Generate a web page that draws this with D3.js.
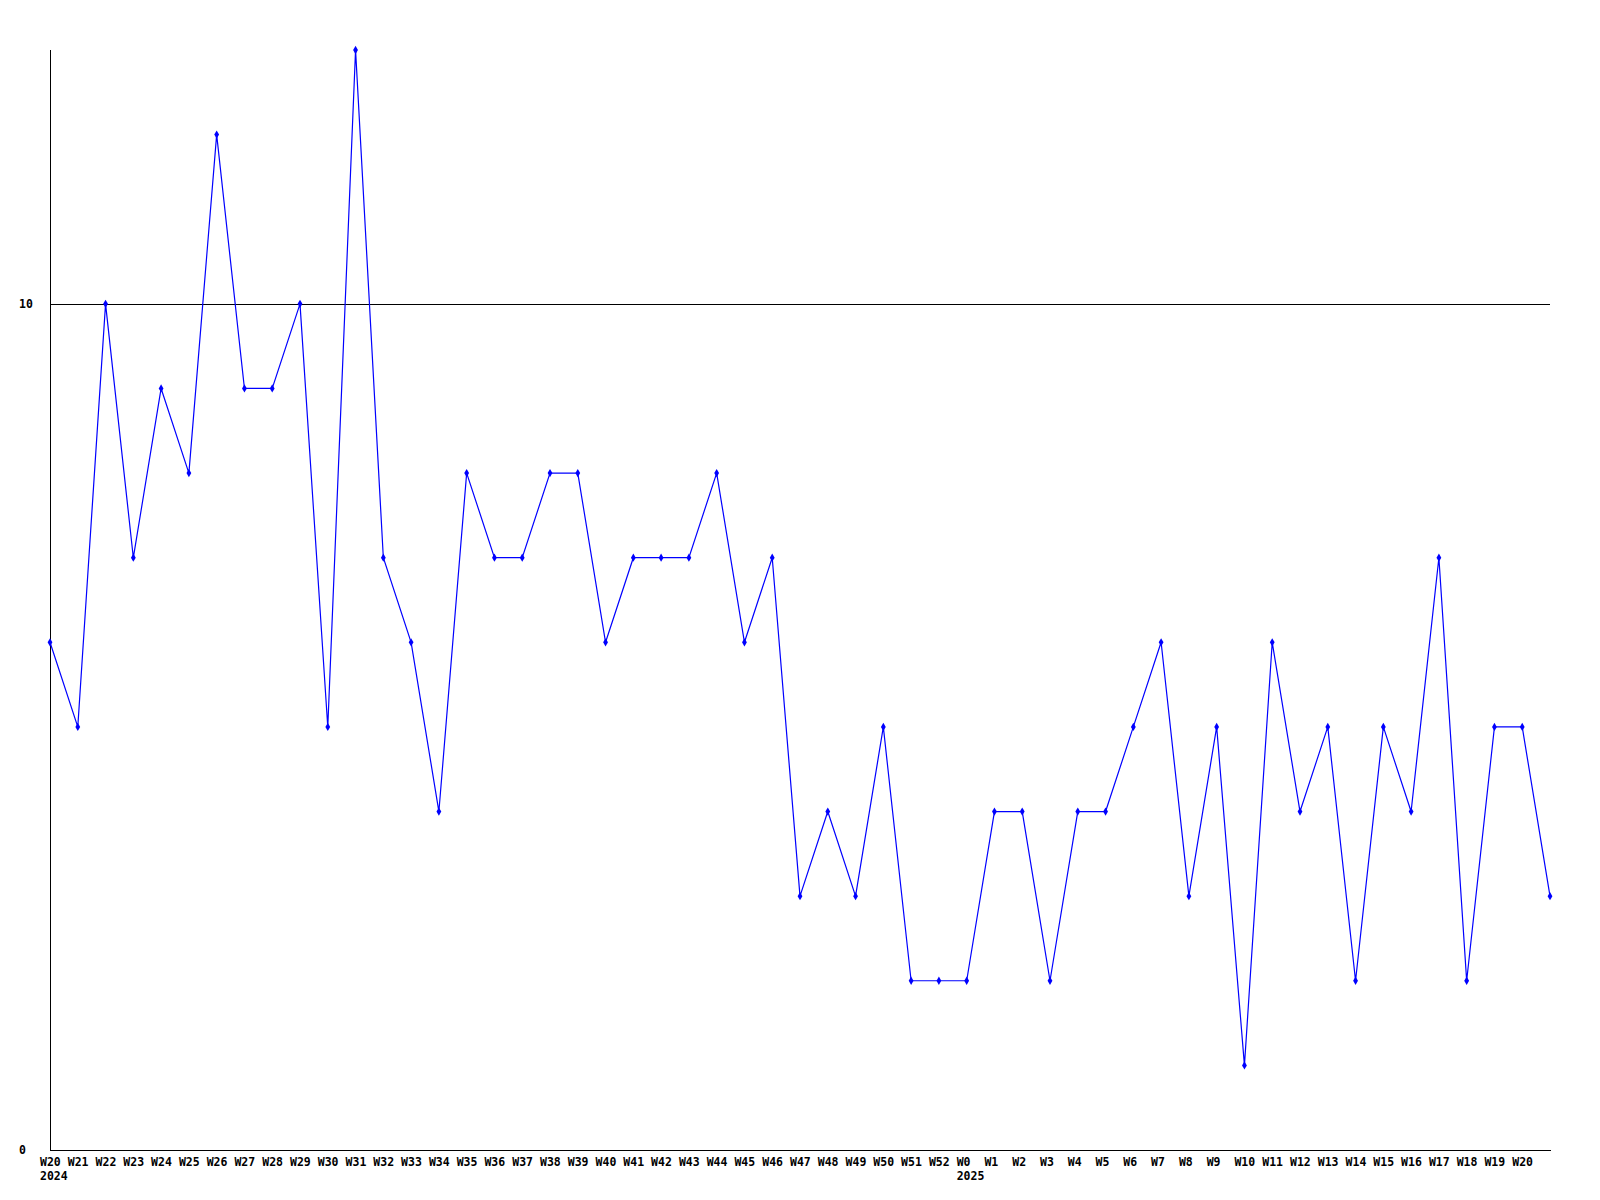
<!DOCTYPE html>
<html>
<head>
<meta charset="utf-8">
<script src="https://cdn.jsdelivr.net/npm/d3@7"></script>
<style>
html,body{margin:0;padding:0;background:#fff;}
svg{display:block;}
text{font-family:"DejaVu Sans Mono","Liberation Mono",monospace;font-weight:bold;font-size:11.5px;fill:#000;}
</style>
</head>
<body>
<svg id="chart" width="1600" height="1200"></svg>
<script>
// Weekly labels (the final point has no label)
const weeks = ["W20","W21","W22","W23","W24","W25","W26","W27","W28","W29","W30","W31","W32","W33","W34","W35","W36","W37","W38","W39","W40","W41","W42","W43","W44","W45","W46","W47","W48","W49","W50","W51","W52","W0","W1","W2","W3","W4","W5","W6","W7","W8","W9","W10","W11","W12","W13","W14","W15","W16","W17","W18","W19","W20",""];
const years = {0:"2024", 33:"2025"};
const values = [6,5,10,7,9,8,12,9,9,10,5,13,7,6,4,8,7,7,8,8,6,7,7,7,8,6,7,3,4,3,5,2,2,2,4,4,2,4,4,5,6,3,5,1,6,4,5,2,5,4,7,2,5,5,3];
const yTicks = [0,10];
const yMax = 13;

(function(){
const svg = d3.select("#chart");
const mLeft = 50, mRight = 1550, mTop = 50, mBottom = 1150;
const idx = d3.range(values.length);
const x = d3.scalePoint().domain(idx).range([mLeft, mRight]);
const y = d3.scaleLinear().domain([0, yMax]).range([mBottom, mTop]);

// gridline at 10
svg.append("g").selectAll("line").data(yTicks.filter(t => t > 0)).join("line")
  .attr("x1", mLeft).attr("x2", mRight)
  .attr("y1", d => Math.round(y(d)) + 0.5).attr("y2", d => Math.round(y(d)) + 0.5)
  .attr("stroke", "#000").attr("stroke-width", 1);

// axes lines
svg.append("line").attr("x1", mLeft + 0.5).attr("x2", mLeft + 0.5).attr("y1", mTop).attr("y2", mBottom)
  .attr("stroke", "#000");
svg.append("line").attr("x1", mLeft).attr("x2", mRight + 1).attr("y1", mBottom + 0.5).attr("y2", mBottom + 0.5)
  .attr("stroke", "#000");

// y labels
svg.append("g").selectAll("text").data(yTicks).join("text")
  .attr("x", 19).attr("y", d => y(d) + 4)
  .text(d => d);

// x labels
const xl = svg.append("g").selectAll("text").data(idx.filter(i => weeks[i] !== "")).join("text")
  .attr("x", i => x(i) - 10).attr("y", 1166);
xl.append("tspan").text(i => weeks[i]);
xl.filter(i => years[i]).append("tspan")
  .attr("x", i => x(i) - 10).attr("y", 1180).text(i => years[i]);

// line
const line = d3.line().x((d, i) => x(i)).y(d => y(d));
svg.append("path").datum(values)
  .attr("d", line).attr("fill", "none").attr("stroke", "#0000ff").attr("stroke-width", 1.2);

// markers
svg.append("g").selectAll("path").data(values).join("path")
  .attr("d", d3.symbol().type(d3.symbolDiamond).size(20))
  .attr("transform", (d, i) => `translate(${x(i)},${y(d)})`)
  .attr("fill", "#0000ff");
})();
</script>
</body>
</html>
